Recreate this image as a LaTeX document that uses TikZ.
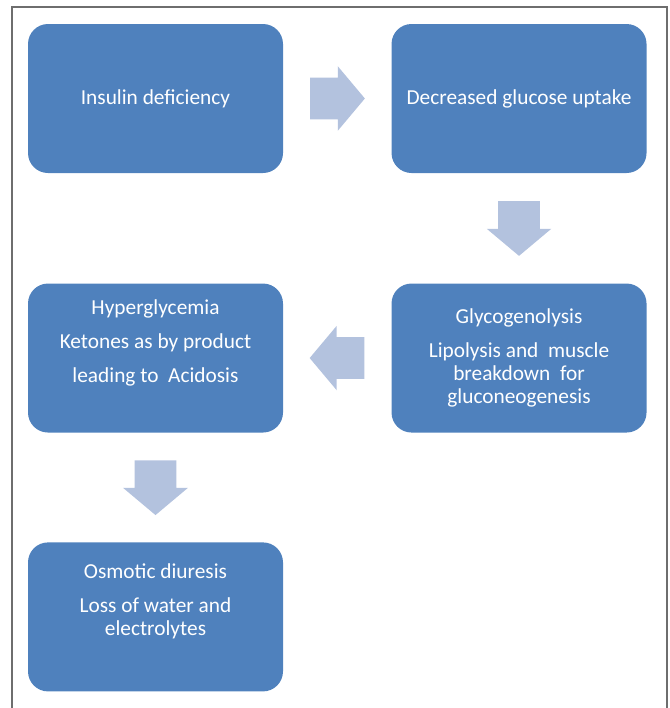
\documentclass[tikz,border=0pt]{standalone}
\usepackage{fontspec}
\setmainfont{Carlito}
\definecolor{boxBlue}{HTML}{4F81BD}
\definecolor{arrowBlue}{HTML}{B3C2DE}
\definecolor{frameGray}{HTML}{6E6E6E}
\usetikzlibrary{arrows.meta,positioning,shapes.arrows,calc}

\begin{document}
\begin{tikzpicture}[x=0.75pt, y=-0.75pt,
  node distance=82pt and 81pt,
  stage/.style={fill=boxBlue, rounded corners=15pt, text=white,
                font=\fontsize{16}{17.25}\selectfont, align=center,
                minimum width=191.25pt, minimum height=111.75pt, inner sep=0pt},
  blockarr/.style={single arrow, fill=arrowBlue, inner xsep=0pt, inner ysep=15.4pt,
                   minimum height=41pt, single arrow head extend=8.6pt,
                   single arrow tip angle=100, anchor=tail}
]
\useasboundingbox (0,0) rectangle (670,708);
\draw[frameGray, line width=1.5pt] (12,7) rectangle (667,740);

\node[stage] (insulin) at (155.5,98.5) {Insulin deficiency};
\node[stage, right=of insulin] (uptake) {Decreased glucose uptake};
\node[stage, below=82.5pt of uptake] (glyco)
  {Glycogenolysis\\[8.25pt]Lipolysis and\ \ muscle\\breakdown\ \ for\\gluconeogenesis};
\node[stage, left=of glyco] (hyper)
  {Hyperglycemia\\[8.25pt]Ketones as by product\\[8.25pt]leading to\ \ Acidosis\\[8.25pt]\mbox{}};
\node[stage, below=of hyper] (osmotic)
  {Osmotic diuresis\\[8.25pt]Loss of water and\\electrolytes\\[8.25pt]\mbox{}};

% block arrows, tail half a length back from the gap's middle
\node[blockarr] (arrA) at ($(insulin.east)!0.5!(uptake.west)!20.5pt!(insulin.east)$) {};
\node[blockarr, rotate=-90] (arrB) at ($(uptake.south)!0.5!(glyco.north)!20.5pt!(uptake.south)$) {};
\node[blockarr, rotate=180] (arrC) at ($(glyco.west)!0.5!(hyper.east)!20.5pt!(glyco.west)$) {};
\node[blockarr, rotate=-90] (arrD) at ($(hyper.south)!0.5!(osmotic.north)!20.5pt!(hyper.south)$) {};
\end{tikzpicture}
\end{document}
